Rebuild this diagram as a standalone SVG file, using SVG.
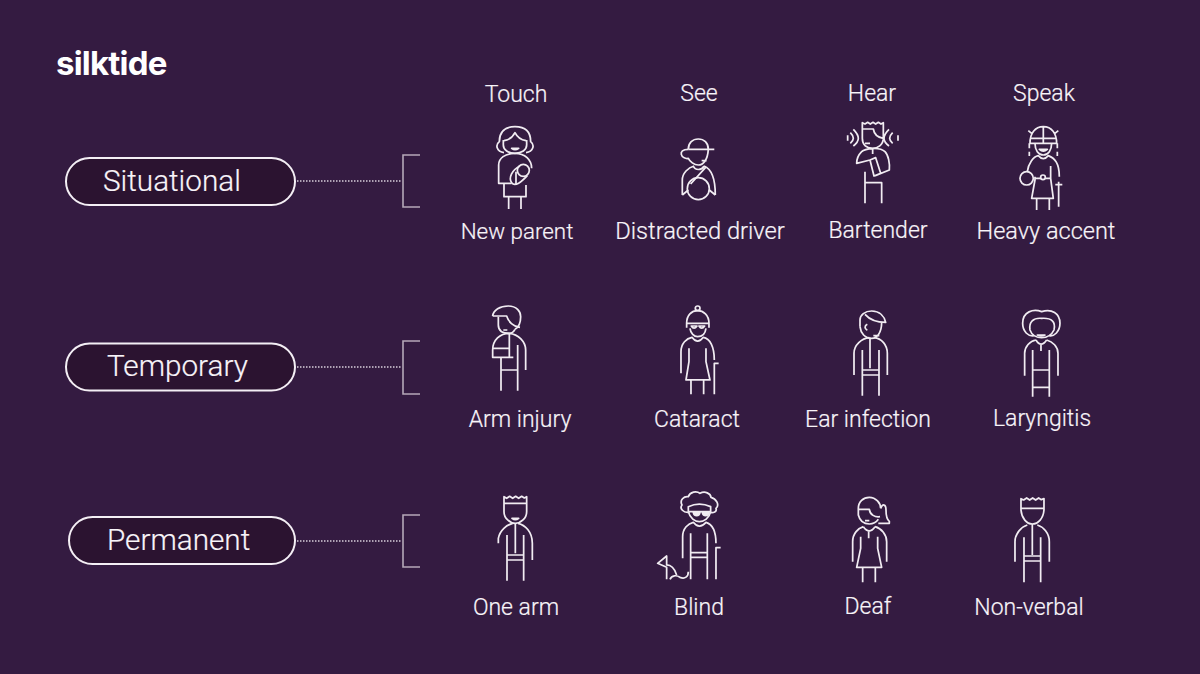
<svg xmlns="http://www.w3.org/2000/svg" width="1200" height="674" viewBox="0 0 1200 674">
<style>
.t{font-family:Roboto,"Liberation Sans",sans-serif;fill:#f8f4f9;font-size:23px;font-weight:300;stroke:#f8f4f9;stroke-width:.2}
.p{font-family:Roboto,"Liberation Sans",sans-serif;fill:#f8f4f9;font-size:29.700px;font-weight:300;stroke:#f8f4f9;stroke-width:.2}
.pill{fill:#2b1330;stroke:#f4eff5;stroke-width:2}
.i{fill:none;stroke:#f1ecf2;stroke-width:5.200;stroke-linecap:butt;stroke-linejoin:round}
.f{fill:#f1ecf2;stroke:#f1ecf2}
.dot{stroke:#d8cfdb;stroke-width:1.5;stroke-dasharray:1.5 1.5;fill:none}
.br{stroke:#b5a8b8;stroke-width:1.6;fill:none}
</style>
<rect width="1200" height="674" fill="#341b41"/>
<text id="logo" x="56" y="75" font-family="Inter,'Liberation Sans',sans-serif" font-weight="700" font-size="33" letter-spacing="-0.8" fill="#fff">silktide</text>
<g id="columns">
<text class="t" x="516" y="102" text-anchor="middle">Touch</text>
<text class="t" x="699" y="101" text-anchor="middle">See</text>
<text class="t" x="872" y="101" text-anchor="middle">Hear</text>
<text class="t" x="1044" y="101" text-anchor="middle">Speak</text>
</g>
<g id="connectors">
<path class="dot" d="M297,181H402M297,367H402M297,541H402"/>
<path class="br" d="M420,155H403V207H420M420,341H403V394H420M420,515H403V567H420"/>
</g>
<g id="situational"><rect class="pill" x="66" y="158" width="229" height="47" rx="23.5"/><text class="p" x="103" y="191">Situational</text></g>
<g id="temporary"><rect class="pill" x="66" y="343.500" width="229" height="47" rx="23.5"/><text class="p" x="107" y="376">Temporary</text></g>
<g id="permanent"><rect class="pill" x="69" y="517" width="226" height="47" rx="23.5"/><text class="p" x="107" y="550">Permanent</text></g>

<g id="new-parent"><g class="i" transform="translate(440,110) scale(.3333)">
<path d="M192,128C170,125 165,105 178,95C178,65 195,50 225,50C255,50 272,65 272,95C285,105 280,125 258,128"/>
<path d="M192,92C205,90 218,82 225,68C232,82 245,90 258,92M190,90V105C190,120 205,130 225,130C245,130 260,120 260,105V90"/>
<path d="M215,115Q225,123 236,115Z"/>
<path d="M215,220H176V165C176,145 195,130 225,130C255,130 275,150 275,175"/>
<circle cx="250" cy="181" r="18"/><path d="M240,168C215,180 205,205 215,218C225,232 245,215 262,197"/><path d="M228,185V225"/>
<path d="M192,220V260H258V225M206,260V297M243,260V297"/></g>
<text class="t" x="517" y="239" text-anchor="middle" font-size="22.400" style="font-size:22.400px">New parent</text></g>

<g id="distracted-driver"><g class="i" transform="translate(440,110) scale(.3333)">
<path d="M745,118C745,98 758,87 775,87C792,87 805,98 805,118M745,118H823"/>
<path d="M745,118C728,118 722,125 724,133C726,143 738,147 745,145C750,155 762,165 775,165C790,165 803,150 805,118M785,152H800"/>
<path d="M760,168C765,182 785,182 792,168M727,255V210C727,190 745,172 762,168M792,168C810,175 826,195 826,255M797,172L752,222M727,255L745,240M826,255L808,240"/>
<circle cx="775" cy="236" r="33"/></g>
<text class="t" x="700" y="239" text-anchor="middle" style="font-size:23.700px">Distracted driver</text></g>

<g id="bartender"><g class="i" transform="translate(820,110) scale(.3333)">
<path d="M127,85V38L135,42L143,37L151,42L159,37L167,42L175,37L183,42L190,38V85C190,105 172,115 158,115C140,115 127,105 127,85ZM127,57H160C162,70 170,82 190,85M135,100H150"/>
<path d="M100,58C120,78 120,92 100,108M91,68C103,80 103,90 91,100M83,76V92M207,58C187,78 187,92 207,108M218,68C206,80 206,90 218,100M234,76V92"/>
<path d="M158,115V132M150,150L110,160C110,150 115,135 125,125C135,115 180,110 195,125C205,135 210,160 208,180L166,197M150,150L167,143L182,190L162,198Z"/>
<path d="M135,185V280M135,218H185V280"/></g>
<text class="t" x="878" y="238" text-anchor="middle">Bartender</text></g>

<g id="heavy-accent"><g class="i" transform="translate(820,110) scale(.3333)">
<path d="M630,100C630,70 645,50 670,50C695,50 710,70 710,100ZM670,50V100M632,85H708M625,62L635,70M715,62L705,70"/>
<path d="M628,100V115M628,125V138M712,100V115M712,125V138M645,100C645,120 655,135 670,135C685,135 695,120 695,100M658,118Q670,128 682,118Z"/>
<path d="M622,185C625,160 640,140 655,137Q670,155 685,137C705,145 718,160 718,200"/>
<path d="M692,168V205L700,265H635L645,210V200M645,205H662M677,205H692M650,265V300M688,265V300M716,215V290M706,224H727"/>
<circle cx="620" cy="205" r="20"/><circle cx="669" cy="202" r="7"/></g>
<text class="t" x="1046" y="239" text-anchor="middle" style="font-size:23.500px">Heavy accent</text></g>

<g id="arm-injury"><g class="i" transform="translate(470,295) scale(.3333)">
<path d="M68,63C70,45 90,33 115,33C140,33 152,50 152,65C152,85 148,95 135,103M68,63H110C115,80 130,95 150,97"/>
<path d="M85,65V90C85,105 95,115 118,115C125,115 130,112 135,103M100,105H112"/>
<path d="M118,115C90,115 68,135 68,165V187H130M118,115V187M118,115C145,118 167,140 167,165V225M68,160H118"/>
<path d="M93,187V287M143,150V287M93,225H143"/></g>
<text class="t" x="520" y="427" text-anchor="middle">Arm injury</text></g>

<g id="cataract"><g class="i" transform="translate(470,295) scale(.3333)">
<path d="M650,85C650,60 665,47 683,47C700,47 717,60 717,85ZM650,85V98M717,85V98"/>
<circle cx="683" cy="40" r="7"/>
<path d="M664,93H681Q672,106 664,93ZM687,93H704Q695,106 687,93ZM660,100C662,115 672,125 683,125C697,125 706,115 708,100"/>
<path d="M633,235V170C633,145 650,130 666,127Q683,150 700,127C720,130 733,155 733,195"/>
<path d="M657,160V200L648,255H720L708,200V160M663,255V298M701,255V298M733,298V205H746"/></g>
<text class="t" x="697" y="427" text-anchor="middle">Cataract</text></g>

<g id="ear-infection"><g class="i" transform="translate(830,295) scale(.3333)">
<path d="M90,95V75C90,60 105,48 125,48C150,48 163,65 167,82C140,82 120,75 105,58"/>
<path d="M90,95C92,115 105,130 125,130C140,130 155,115 155,82M112,88C103,92 103,102 112,106M130,122H148"/>
<path d="M72,240V175C72,150 95,130 118,128M132,128C155,130 172,150 172,175V240M120,128V220"/>
<path d="M97,165V302M147,165V302M97,225H147M97,240H147"/></g>
<text class="t" x="868" y="427" text-anchor="middle">Ear infection</text></g>

<g id="laryngitis"><g class="i" transform="translate(830,295) scale(.3333)">
<path d="M612,122C595,125 578,110 578,85C578,50 610,40 635,50C665,40 690,55 690,85C690,110 672,125 658,122"/>
<path d="M600,105C596,80 610,68 635,70C665,68 678,80 672,105C665,120 650,128 635,128C620,128 605,120 600,105Z"/>
<path d="M622,120Q633,125 645,120Z"/>
<path d="M618,135Q633,160 650,135M633,150V168M584,242V175C584,155 600,138 618,135M650,135C668,140 684,155 684,175V242"/>
<path d="M608,165V305M658,165V305M608,225H658M608,277H658"/></g>
<text class="t" x="1042" y="426" text-anchor="middle">Laryngitis</text></g>

<g id="one-arm"><g class="i" transform="translate(480,480) scale(.3333)">
<path d="M72,95V50L80,55L89,49L98,55L107,49L116,55L125,49L133,54L140,50V95M72,70H140M72,95C72,115 90,130 106,130C122,130 140,115 140,95"/>
<path d="M96,115Q106,123 116,115Z"/>
<path d="M55,190V175C60,150 80,135 98,130M114,130C135,135 157,155 157,190V240M106,130V220"/>
<path d="M81,165V302M131,165V302M81,225H131M81,240H131"/></g>
<text class="t" x="516" y="615" text-anchor="middle">One arm</text></g>

<g id="blind"><g class="i" transform="translate(480,480) scale(.3333)">
<path d="M628,97C610,100 598,85 606,75C598,60 612,48 625,50C630,35 650,32 660,40C675,32 692,40 693,52C708,55 720,75 708,85C712,95 700,100 690,97"/>
<path d="M625,80Q658,65 692,80V95H625ZM625,95C630,115 645,125 658,125C672,125 688,115 692,95"/>
<path class="f" d="M640,97H660C658,110 642,110 640,97ZM667,97H687C685,110 669,110 667,97Z"/>
<path d="M608,235V170C608,145 625,130 640,127Q658,150 678,127C695,132 708,150 708,190"/>
<path d="M632,160V298M682,160V298M632,218H682M632,232H682M708,298V203H722"/>
<path d="M560,298V262L533,250L560,228V255C575,255 585,270 590,285M570,298C575,285 590,285 600,292C615,298 625,290 625,275"/></g>
<text class="t" x="699" y="615" text-anchor="middle">Blind</text></g>

<g id="deaf"><g class="i" transform="translate(830,480) scale(.3333)">
<path d="M85,88V85C85,65 100,52 118,52C138,52 152,70 152,85M85,88H118C120,105 135,112 150,110M85,88V105C90,125 105,132 118,132C130,132 138,128 145,118M105,122H118"/>
<path d="M152,85C158,70 168,72 168,90C168,105 170,118 178,124V130H145"/>
<path d="M100,140Q118,165 135,140M116,155V175M68,245V185C68,160 85,145 100,140M135,140C155,145 170,165 170,185V245"/>
<path d="M92,170V205L80,262H155L143,205V170M98,262V307M136,262V307"/></g>
<text class="t" x="868" y="614" text-anchor="middle">Deaf</text></g>

<g id="non-verbal"><g class="i" transform="translate(830,480) scale(.3333)">
<path d="M573,90V56L581,60L590,54L599,60L608,54L617,60L626,54L634,59L642,56V90M573,85H642M573,90C575,115 590,132 607,132C625,132 640,115 642,90"/>
<path d="M555,245V185C555,160 575,140 592,135M622,135C640,140 658,160 658,185V245M607,132V225"/>
<path d="M582,172V307M632,172V307M582,228H632M582,243H632"/></g>
<text class="t" x="1029" y="615" text-anchor="middle">Non-verbal</text></g>
</svg>
